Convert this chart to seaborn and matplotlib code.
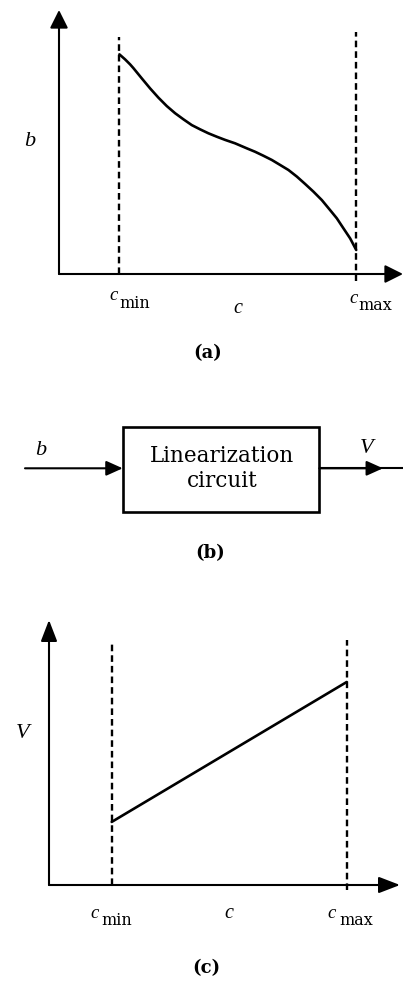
import matplotlib
matplotlib.use("Agg")
import matplotlib.pyplot as plt
import seaborn as sns
import pandas as pd
from matplotlib.patches import Rectangle

sns.set_theme(style="white")
plt.rcParams["font.family"] = ["DejaVu Serif"]

# ---- data -------------------------------------------------------------
c_min, c_max = 1.0, 5.0
c_mid = 3.0

# (a) nonlinear sensor output b as a function of c
c_sensor = [1.000, 1.096, 1.181, 1.236, 1.378, 1.519, 1.659, 1.801, 1.941,
            2.081, 2.223, 2.363, 2.503, 2.645, 2.785, 2.954, 3.152, 3.292,
            3.432, 3.574, 3.715, 3.855, 3.997, 4.137, 4.277, 4.419, 4.559,
            4.672, 4.784, 4.897, 5.000]
b_sensor = [8.32, 8.13, 7.94, 7.80, 7.41, 7.03, 6.68, 6.36, 6.09,
            5.86, 5.64, 5.48, 5.33, 5.20, 5.08, 4.95, 4.76, 4.63,
            4.48, 4.32, 4.13, 3.94, 3.69, 3.41, 3.12, 2.80, 2.42,
            2.11, 1.73, 1.35, 0.91]

# (c) linearized output V as a function of c
c_linear = [c_min, c_max]
V_linear = [2.38, 7.66]

# extent of the dashed limit lines (in y data units)
a_dash_top = [8.98, 9.17]
a_dash_bottom = [0.0, -0.25]
c_dash_top = [9.13, 9.25]
c_dash_bottom = [0.0, -0.19]

panel_tags = ["(a)", "(b)", "(c)"]
block_text = ["Linearization", "circuit"]

# ---- figure -----------------------------------------------------------
W, H = 403, 989
fig = plt.figure(figsize=(W / 100, H / 100), dpi=100)


def frac_rect(left, top, right, bottom):
    return [left / W, 1 - bottom / H, (right - left) / W, (bottom - top) / H]


def fpos(x, y):
    return x / W, 1 - y / H


INK = "black"
ITALIC = dict(family=["Liberation Serif"], style="italic", color=INK)
SUB = dict(family=["DejaVu Serif"], color=INK)


def axis_arrows(ax, head_len, head_w):
    style = f"-|>,head_length={head_len},head_width={head_w}"
    kw = dict(arrowstyle=style, lw=1.5, color=INK, mutation_scale=10,
              shrinkA=0, shrinkB=0)
    ax.annotate("", xy=(1, 0), xytext=(0, 0), xycoords="axes fraction",
                textcoords="axes fraction", arrowprops=kw)
    ax.annotate("", xy=(0, 1), xytext=(0, 0), xycoords="axes fraction",
                textcoords="axes fraction", arrowprops=kw)


def limit_label(ax, xval, sub, dx_c, base_c, dx_s, base_s):
    ax.annotate("c", xy=(xval, 0), xytext=(dx_c, base_c),
                textcoords="offset pixels", ha="center", va="baseline",
                fontsize=13.5, annotation_clip=False, **ITALIC)
    ax.annotate(sub, xy=(xval, 0), xytext=(dx_s, base_s),
                textcoords="offset pixels", ha="left", va="baseline",
                fontsize=11.5, annotation_clip=False, **SUB)


def setup(ax, xlim):
    ax.set_xlim(*xlim)
    ax.set_ylim(0, 10)
    for s in ax.spines.values():
        s.set_visible(False)
    ax.set_xticks([])
    ax.set_yticks([])
    ax.set_xlabel("")
    ax.set_ylabel("")
    ax.patch.set_alpha(0)


dash = (0, (2.8, 1.7))

# ---- panel (a) --------------------------------------------------------
ax_a = fig.add_axes(frac_rect(59, 10, 403, 274))
df_a = pd.DataFrame({"c": c_sensor, "b": b_sensor})
sns.lineplot(data=df_a, x="c", y="b", ax=ax_a, color=INK, lw=1.9,
             sort=False, estimator=None, solid_joinstyle="round",
             solid_capstyle="round")
setup(ax_a, (-0.02, 5.79))
ax_a.vlines([c_min, c_max], a_dash_bottom, a_dash_top, colors=INK,
            linestyles=[dash], lw=1.7, clip_on=False)
axis_arrows(ax_a, 1.1, 0.55)
ax_a.annotate("b", xy=(0, 5.0), xytext=(-30, 0), textcoords="offset pixels",
              ha="center", va="center", fontsize=16, annotation_clip=False,
              **ITALIC)
limit_label(ax_a, c_min, "min", -6, -26, 0, -34)
limit_label(ax_a, c_max, "max", -3, -29, 2, -36)
ax_a.annotate("c", xy=(c_mid, 0), xytext=(0, -39), textcoords="offset pixels",
              ha="center", va="baseline", fontsize=14.5, annotation_clip=False,
              **ITALIC)

# ---- panel (b): block diagram ----------------------------------------
ax_b = fig.add_axes(frac_rect(0, 400, 403, 530))
ax_b.set_xlim(0, W)
ax_b.set_ylim(530, 400)
ax_b.axis("off")
box_x0, box_x1, box_y0, box_y1 = 122.7, 319.3, 426.7, 511.7
line_y = 468.3
ax_b.add_patch(Rectangle((box_x0, box_y0), box_x1 - box_x0, box_y1 - box_y0,
                         fill=False, lw=1.9, ec=INK))
head = dict(arrowstyle="-|>,head_length=1.0,head_width=0.45", lw=1.5,
            color=INK, mutation_scale=10, shrinkA=0, shrinkB=0)
ax_b.annotate("", xy=(box_x0, line_y), xytext=(25, line_y), arrowprops=head)
ax_b.plot([box_x1, W], [line_y, line_y], color=INK, lw=1.5,
          solid_capstyle="butt")
ax_b.annotate("", xy=(383, line_y), xytext=(box_x1, line_y), arrowprops=head)
ax_b.text(41, 451, "b", ha="center", va="center", fontsize=16, **ITALIC)
ax_b.text(367, 449, "V", ha="center", va="center", fontsize=16, **ITALIC)
ax_b.text((box_x0 + box_x1) / 2 + 1, 461.7, block_text[0], ha="center",
          va="baseline", fontsize=15.5, color=INK)
ax_b.text((box_x0 + box_x1) / 2 + 1, 486.7, block_text[1], ha="center",
          va="baseline", fontsize=15.5, color=INK)

# ---- panel (c) --------------------------------------------------------
ax_c = fig.add_axes(frac_rect(49, 620, 400, 885))
df_c = pd.DataFrame({"c": c_linear, "V": V_linear})
sns.lineplot(data=df_c, x="c", y="V", ax=ax_c, color=INK, lw=1.9,
             estimator=None)
setup(ax_c, (-0.067, 5.907))
ax_c.vlines([c_min, c_max], c_dash_bottom, c_dash_top, colors=INK,
            linestyles=[dash], lw=1.7, clip_on=False)
axis_arrows(ax_c, 1.3, 0.5)
ax_c.annotate("V", xy=(0, 5.7), xytext=(-30, 0), textcoords="offset pixels",
              ha="center", va="center", fontsize=16, annotation_clip=False,
              **ITALIC)
limit_label(ax_c, c_min, "min", -17, -33, -10, -40)
limit_label(ax_c, c_max, "max", -15, -33, -7, -40)
ax_c.annotate("c", xy=(c_mid, 0), xytext=(0, -33), textcoords="offset pixels",
              ha="center", va="baseline", fontsize=14.5, annotation_clip=False,
              **ITALIC)

# ---- panel tags -------------------------------------------------------
for tag, (x, y) in zip(panel_tags, [(208, 353), (210, 553), (206, 968)]):
    fig.text(*fpos(x, y), tag, ha="center", va="center", fontsize=13,
             fontweight="bold", color=INK)

fig.savefig("out.png", dpi=100)
